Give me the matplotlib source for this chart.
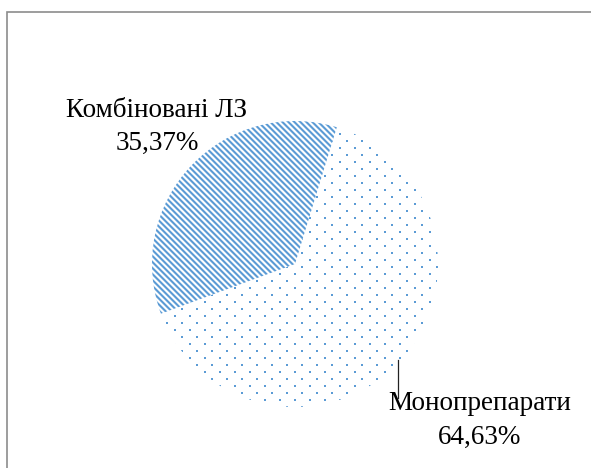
import matplotlib
matplotlib.use("Agg")
import numpy as np
import matplotlib.pyplot as plt
from matplotlib.patches import Rectangle

labels = ["Комбіновані ЛЗ", "Монопрепарати"]
values = [35.37, 64.63]
value_labels = ["35,37%", "64,63%"]
blue = "#5B9BD5"

plt.rcParams['font.family'] = ['Liberation Serif', 'DejaVu Serif']

W, H = 591, 468
fig = plt.figure(figsize=(W / 100, H / 100), dpi=100)
fig.patch.set_facecolor("white")

# outer frame (cropped at right/bottom)
fig.add_artist(Rectangle((7 / W, -0.1), 1.2, 1 - 12 / H + 0.1, transform=fig.transFigure,
                         fill=False, edgecolor="#8c8c8c", linewidth=1.2))

cx, cy, r = 295, 264, 143
ax = fig.add_axes([(cx - r) / W, 1 - (cy + r) / H, 2 * r / W, 2 * r / H])
wedges, _ = ax.pie(values, startangle=73, counterclock=True,
                   wedgeprops=dict(facecolor="white", edgecolor="none", linewidth=0))
ax.set_xlim(-1, 1)
ax.set_ylim(-1, 1)
ax.set_aspect('equal')
ax.axis('off')

px = 2.0 / (2 * r)  # data units per pixel

# texture 1: dense downward diagonal stripes
period = 6.0 * px
for c in np.arange(-2.2, 2.2, period):
    ln, = ax.plot([-1.1, 1.1], [c + 1.1, c - 1.1], color=blue, linewidth=1.5,
                  solid_capstyle="butt")
    ln.set_clip_path(wedges[0])

# texture 2: sparse staggered dots
row_step = 7.0 * px
col_step = 15.0 * px
xs, ys = [], []
for i, yy in enumerate(np.arange(-1.05, 1.05, row_step)):
    off = (col_step / 2) if i % 2 else 0.0
    for xx in np.arange(-1.05 + off, 1.05, col_step):
        xs.append(xx)
        ys.append(yy)
sc = ax.scatter(xs, ys, s=3.5, marker="s", color=blue, linewidths=0)
sc.set_clip_path(wedges[1])

fs = 19.5
# label 1
fig.text(157 / W, 1 - 117 / H, labels[0], ha="center", va="baseline", fontsize=fs)
fig.text(157 / W, 1 - 150 / H, value_labels[0], ha="center", va="baseline", fontsize=fs)
# label 2
fig.text(480 / W, 1 - 410 / H, labels[1], ha="center", va="baseline", fontsize=fs)
fig.text(480 / W, 1 - 444 / H, value_labels[1], ha="center", va="baseline", fontsize=fs)
fig.add_artist(plt.Line2D([398 / W, 398 / W], [1 - 360 / H, 1 - 398 / H],
                          transform=fig.transFigure, color="#222222", linewidth=0.9))

fig.savefig("out.png", dpi=100, facecolor="white")
